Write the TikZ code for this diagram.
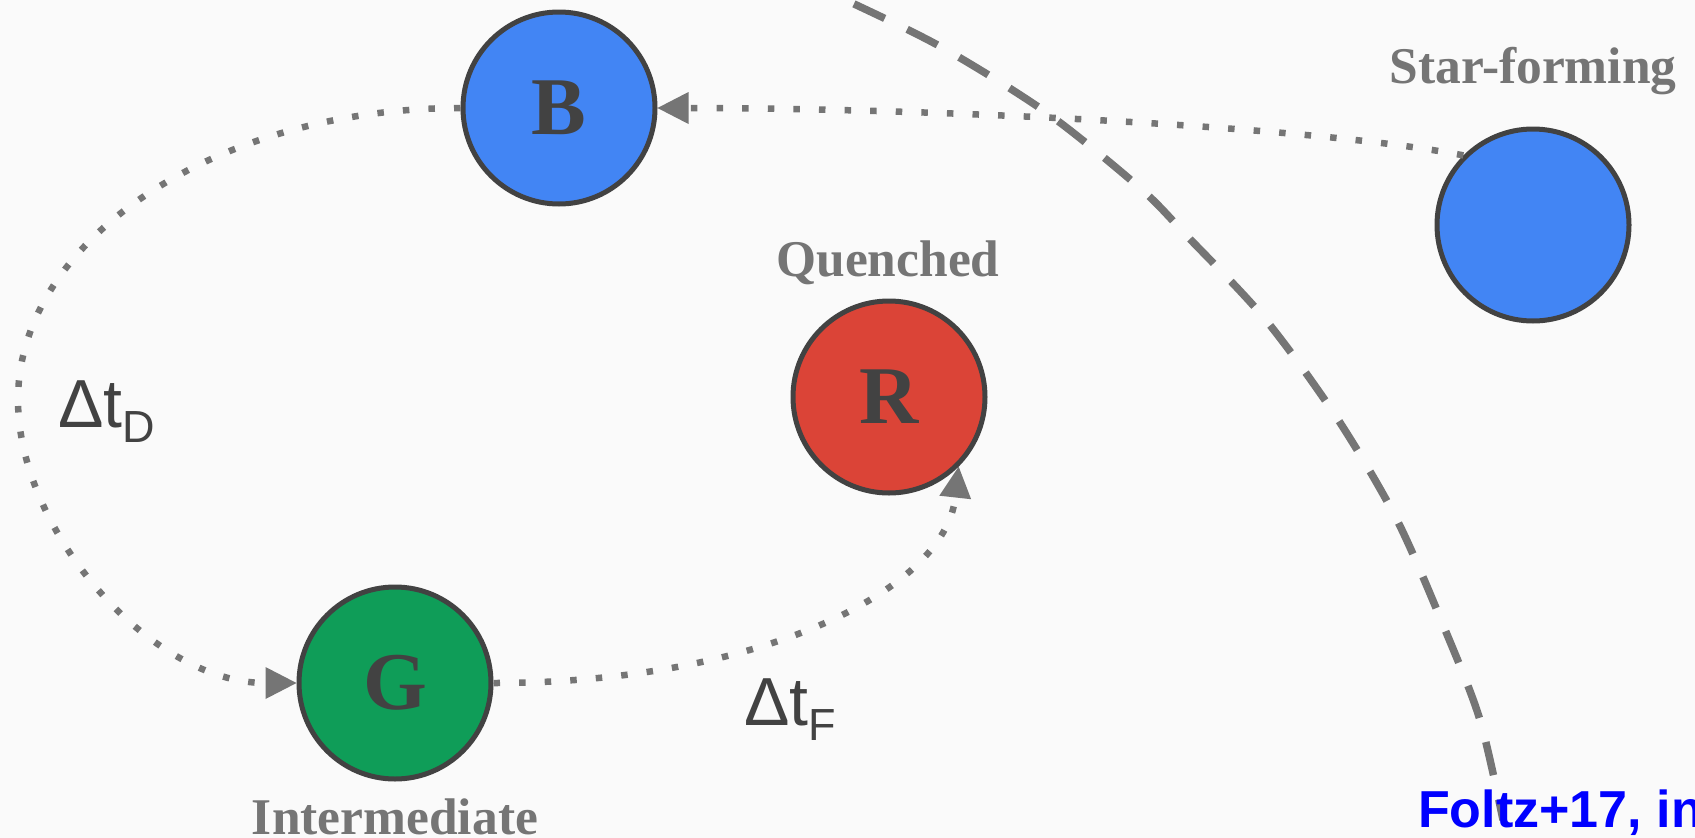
\documentclass[tikz,border=0pt]{standalone}
\usepackage{fontspec}
\setmainfont{Liberation Serif}
\newfontfamily\arialf{Liberation Sans}
\usetikzlibrary{arrows.meta}
\definecolor{bgc}{RGB}{250,250,250}
\definecolor{linegray}{RGB}{117,117,117}
\definecolor{dark}{RGB}{66,66,66}
\definecolor{gblue}{RGB}{66,133,244}
\definecolor{gred}{RGB}{219,68,55}
\definecolor{ggreen}{RGB}{15,157,88}
\definecolor{refblue}{RGB}{0,0,255}
\tikzset{
  galaxy/.style={circle, draw=dark, line width=5pt, minimum size=192pt, inner sep=0pt,
    font=\fontsize{82}{82}\selectfont\bfseries, text=dark},
  glabel/.style={anchor=base, text=linegray, font=\fontsize{51.5}{51.5}\selectfont\bfseries, inner sep=0pt},
  dotline/.style={draw=linegray, line width=6.5pt, dash pattern=on 6.5pt off 19.1pt},
  dashline/.style={draw=linegray, line width=7.5pt, dash pattern=on 34pt off 25pt},
  tip/.style={-{Triangle[length=31pt,width=32pt,line width=0pt]}},
  dtlabel/.style={anchor=base west, text=dark, inner sep=0pt, font=\arialf\fontsize{68}{68}\selectfont},
  reflabel/.style={anchor=base west, text=refblue, inner sep=0pt, font=\arialf\bfseries\fontsize{52}{52}\selectfont}
}
\begin{document}
\begin{tikzpicture}[x=1pt,y=-1pt]
\useasboundingbox[fill=bgc] (0,0) rectangle (1695,838);
% dashed boundary arc
\draw[dashline] plot[smooth, tension=0.5] coordinates {(800,-20) (850,2) (943,48) (1047,113) (1140,188) (1188,237) (1265,319) (1337,418) (1397,520) (1446,632) (1480,720) (1503,820)};
% galaxies
\node[galaxy, fill=gblue] (B) at (559,108) {\raisebox{-3pt}{B}};
\node[galaxy, fill=gblue] (SF) at (1533,225) {};
\node[galaxy, fill=gred] (R) at (889,397) {\raisebox{-3pt}{R}};
\node[galaxy, fill=ggreen] (G) at (395,683) {\raisebox{-3pt}{G}};
% labels
\node[glabel] (sflab) at (1533,83) {Star-forming};
\node[glabel] (qlab) at (888,276) {Quenched};
\node[glabel] (ilab) at (395,834) {Intermediate};
% connectors
\coordinate (L) at (18,400);
\draw[dotline, tip] (SF.135) .. controls (1300,124) and (900,108) .. (B.east);
\draw[dotline, tip] (B.west) .. controls (217,108) and (18,239) .. (L) .. controls (18,530) and (150,683) .. (G.west);
\draw[dotline, tip] (G.east) .. controls (760,683) and (945,590) .. (R.-45);
% time labels
\node[dtlabel] (tD) at (58,427) {Δt\raisebox{-15pt}{\fontsize{45}{45}\selectfont D}};
\node[dtlabel] (tF) at (744,725) {Δt\raisebox{-15pt}{\fontsize{45}{45}\selectfont F}};
% reference
\node[reflabel] (ref) at (1418,827) {Foltz+17, in};
\end{tikzpicture}
\end{document}
